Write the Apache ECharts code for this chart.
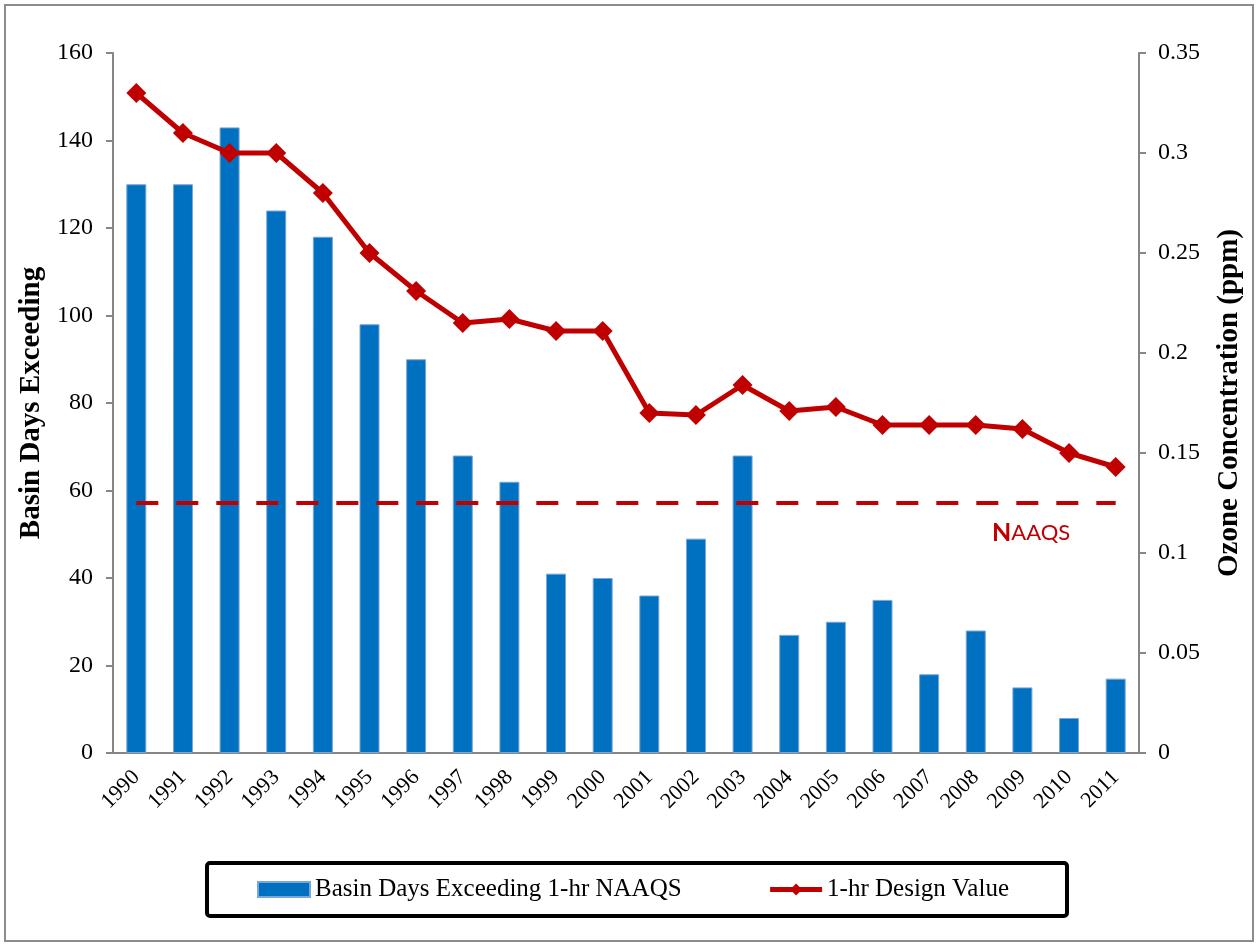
<!DOCTYPE html>
<html>
<head>
<meta charset="utf-8">
<title>Basin Days Exceeding 1-hr NAAQS</title>
<script src="https://cdn.jsdelivr.net/npm/echarts@6/dist/echarts.min.js"></script>
<style>
  html, body { margin: 0; padding: 0; background: #fff; }
  #chart { width: 1256px; height: 945px; }
</style>
</head>
<body>
<div id="chart"></div>
<script>
// 数据
const years = ['1990', '1991', '1992', '1993', '1994', '1995', '1996', '1997', '1998', '1999', '2000',
  '2001', '2002', '2003', '2004', '2005', '2006', '2007', '2008', '2009', '2010', '2011']
const basinDays = [130, 130, 143, 124, 118, 98, 90, 68, 62, 41, 40, 36, 49, 68, 27, 30, 35, 18, 28, 15, 8, 17]
const designValue = [0.33, 0.31, 0.30, 0.30, 0.28, 0.25, 0.231, 0.215, 0.217, 0.211, 0.211,
  0.17, 0.169, 0.184, 0.171, 0.173, 0.164, 0.164, 0.164, 0.162, 0.15, 0.143]
const naaqsLevel = 0.125

const serif = 'Liberation Serif'
const red = '#C00000'
const blue = '#0070C0'
const axisGray = '#868686'

const chart = echarts.init(document.getElementById('chart'))

chart.setOption({
  animation: false,
  backgroundColor: '#fff',
  textStyle: { fontFamily: serif },
  grid: { left: 113, right: 117, top: 53, bottom: 192 },
  legend: {
    data: [
      { name: 'Basin Days Exceeding 1-hr NAAQS', icon: 'rect' },
      { name: '1-hr Design Value', lineStyle: { width: 5, color: red } }
    ],
    left: 207,
    top: 863,
    padding: [14, 58, 14, 50],
    itemGap: 86,
    itemWidth: 52,
    itemHeight: 15,
    borderColor: '#000',
    borderWidth: 4,
    borderRadius: 3,
    textStyle: { fontFamily: serif, fontSize: 25, color: '#000' }
  },
  xAxis: {
    type: 'category',
    data: years,
    axisLine: { lineStyle: { color: axisGray, width: 2 } },
    axisTick: { length: 7, lineStyle: { color: axisGray, width: 2 } },
    axisLabel: { rotate: 45, margin: 21, fontSize: 22, color: '#000', fontFamily: serif }
  },
  yAxis: [
    {
      type: 'value',
      min: 0,
      max: 160,
      interval: 20,
      name: 'Basin Days Exceeding',
      nameLocation: 'middle',
      nameGap: 64,
      nameTextStyle: { fontFamily: serif, fontSize: 29, fontWeight: 'bold', color: '#000' },
      axisLine: { show: true, lineStyle: { color: axisGray, width: 2 } },
      axisTick: { show: true, length: 7, lineStyle: { color: axisGray, width: 2 } },
      axisLabel: { fontSize: 24, color: '#000', margin: 20, fontFamily: serif },
      splitLine: { show: false }
    },
    {
      type: 'value',
      min: 0,
      max: 0.35,
      interval: 0.05,
      name: 'Ozone Concentration (ppm)',
      nameLocation: 'middle',
      nameGap: 76,
      nameTextStyle: { fontFamily: serif, fontSize: 29, fontWeight: 'bold', color: '#000' },
      axisLine: { show: true, lineStyle: { color: axisGray, width: 2 } },
      axisTick: { show: true, length: 7, lineStyle: { color: axisGray, width: 2 } },
      axisLabel: { fontSize: 24, color: '#000', margin: 19, fontFamily: serif },
      splitLine: { show: false }
    }
  ],
  series: [
    {
      name: 'Basin Days Exceeding 1-hr NAAQS',
      type: 'bar',
      yAxisIndex: 0,
      barWidth: 20,
      data: basinDays,
      itemStyle: { color: blue, borderColor: '#7ba5d6', borderWidth: 1 }
    },
    {
      name: '1-hr Design Value',
      type: 'line',
      yAxisIndex: 1,
      data: designValue,
      symbol: 'diamond',
      symbolSize: 20,
      lineStyle: { color: red, width: 5 },
      itemStyle: { color: red },
      markLine: {
        silent: true,
        symbol: 'none',
        label: { show: false },
        lineStyle: { color: red, width: 4, type: [22, 18] },
        data: [[
          { coord: [years[0], naaqsLevel] },
          { coord: [years[years.length - 1], naaqsLevel] }
        ]]
      }
    }
  ],
  graphic: [
    {
      type: 'rect',
      shape: { x: 5, y: 5, width: 1248, height: 936 },
      style: { fill: 'none', stroke: '#8c8c8c', lineWidth: 2 },
      silent: true
    },
    {
      type: 'text',
      left: 992,
      top: 520,
      style: {
        text: '{n|N}{r|AAQS}',
        rich: {
          n: { fontFamily: 'Lato', fontSize: 25, fontWeight: 'bold', fill: red },
          r: { fontFamily: 'Lato', fontSize: 22, fill: red }
        }
      }
    }
  ]
})

window.addEventListener('resize', () => chart.resize())
</script>
</body>
</html>
